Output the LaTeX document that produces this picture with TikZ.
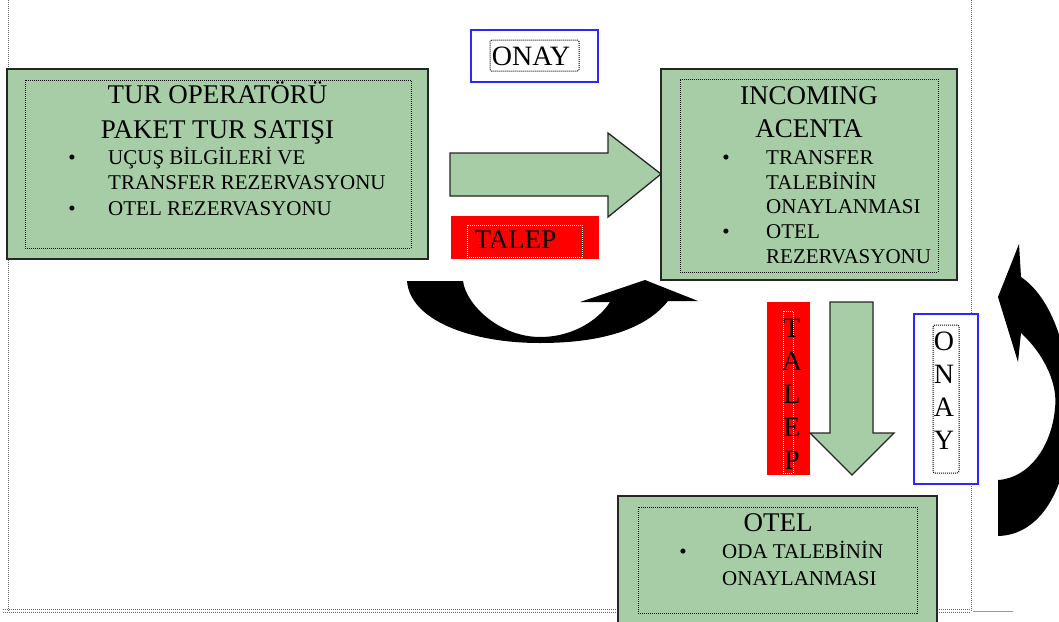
\documentclass[tikz,border=0pt]{standalone}
\usepackage{fontspec}
\setmainfont{Liberation Serif}
\definecolor{boxgreen}{RGB}{166,205,166}
\definecolor{onayblue}{RGB}{40,40,255}
\begin{document}
\begin{tikzpicture}[x=1pt,y=-1pt,
  pageline/.style={draw=black!60, line width=0.9pt, dash pattern=on 1pt off 1pt},
  gbox/.style={rectangle, draw=black!85, line width=1.4pt, fill=boxgreen, inner sep=0pt, outer sep=0pt, anchor=north west},
  dotbox/.style={rectangle, draw=black, line width=1pt, dash pattern=on 1pt off 1pt, inner sep=0pt, outer sep=0pt, anchor=north west},
  wdotbox/.style={rectangle, draw=black!80, line width=1pt, postaction={draw=white, line width=1pt, dash pattern=on 1pt off 1pt}, inner sep=0pt, outer sep=0pt, anchor=north west},
  bluebox/.style={rectangle, draw=onayblue, line width=1.5pt, fill=white, inner sep=0pt, outer sep=0pt, anchor=north west},
  redbox/.style={rectangle, fill=red, inner sep=0pt, outer sep=0pt, anchor=north west},
  title/.style={font=\fontsize{27}{27}\selectfont, anchor=base, inner sep=0pt},
  item/.style={font=\fontsize{21}{21}\selectfont, anchor=base west, inner sep=0pt},
  bul/.style={font=\fontsize{21}{21}\selectfont, anchor=base, inner sep=0pt},
  letter/.style={font=\fontsize{28}{28}\selectfont, anchor=base, inner sep=0pt},
  garrow/.style={draw=black!85, line width=1.3pt, fill=boxgreen, line join=miter},
  barrow/.style={fill=black}]
\useasboundingbox (0,0) rectangle (1059,621);
\fill[white] (0,0) rectangle (1059,621);

% page guide lines
\coordinate (pl1) at (8,0);   \coordinate (pl2) at (8,612);
\coordinate (pr1) at (971,0); \coordinate (pr2) at (971,612);
\coordinate (pb1) at (3,609); \coordinate (pb2) at (971,609);
\coordinate (pc1) at (3,612); \coordinate (pc2) at (971,612);
\coordinate (pg1) at (973,611); \coordinate (pg2) at (1013,611);
\draw[pageline] (pl1) -- (pl2);
\draw[pageline] (pr1) -- (pr2);
\draw[pageline] (pb1) -- (pb2);
\draw[pageline] (pc1) -- (pc2);
\draw[black!40, line width=1pt] (pg1) -- (pg2);

% box 1
\node[gbox, minimum width=421pt, minimum height=190pt] (b1) at (7,69) {};
\node[dotbox, minimum width=386pt, minimum height=168pt] (b1i) at (25,80) {};
\node[title] (t1a) at (217.5,103) {TUR OPERATÖRÜ};
\node[title] (t1b) at (217.5,138) {PAKET TUR SATIŞI};
\node[bul] (u1a) at (72,164) {•};
\node[item] (t1c) at (108,164) {UÇUŞ BİLGİLERİ VE};
\node[item] (t1d) at (108,189) {TRANSFER REZERVASYONU};
\node[bul] (u1b) at (72,215) {•};
\node[item] (t1e) at (108,215) {OTEL REZERVASYONU};

% box 2
\node[gbox, minimum width=296pt, minimum height=211pt] (b2) at (661,69) {};
\node[dotbox, minimum width=258pt, minimum height=193pt] (b2i) at (680,79) {};
\node[title] (t2a) at (809,104) {INCOMING};
\node[title] (t2b) at (809,137) {ACENTA};
\node[bul] (u2a) at (726,164) {•};
\node[item] (t2c) at (766,164) {TRANSFER};
\node[item] (t2d) at (766,189) {TALEBİNİN};
\node[item] (t2e) at (766,213) {ONAYLANMASI};
\node[bul] (u2b) at (726,238) {•};
\node[item] (t2f) at (766,238) {OTEL};
\node[item] (t2g) at (766,263) {REZERVASYONU};

% box 3
\node[gbox, minimum width=319pt, minimum height=140pt] (b3) at (618,496) {};
\node[dotbox, minimum width=279pt, minimum height=106pt] (b3i) at (638,507) {};
\node[title] (t3a) at (778,531) {OTEL};
\node[bul] (u3a) at (683,558) {•};
\node[item] (t3b) at (722,558) {ODA TALEBİNİN};
\node[item] (t3c) at (722,585) {ONAYLANMASI};

% top ONAY label
\node[bluebox, minimum width=127pt, minimum height=52pt] (on1) at (471,30) {};
\node[dotbox, minimum width=89pt, minimum height=31pt, rounded corners=1.5pt] (on1i) at (490,40) {};
\node[font=\fontsize{28}{28}\selectfont, anchor=base, inner sep=0pt] (on1t) at (531,65) {ONAY};

% right green arrow
\coordinate (ra1) at (450,153);
\coordinate (ra2) at (608,153);
\coordinate (ra3) at (608,133);
\coordinate (ra4) at (661,174);
\coordinate (ra5) at (608,217);
\coordinate (ra6) at (608,196);
\coordinate (ra7) at (450,196);
\draw[garrow] (ra1) -- (ra2) -- (ra3) -- (ra4) -- (ra5) -- (ra6) -- (ra7) -- cycle;

% horizontal TALEP label
\node[redbox, minimum width=148pt, minimum height=43pt] (ta1) at (451,216) {};
\node[wdotbox, minimum width=115pt, minimum height=32pt] (ta1i) at (467,225) {};
\node[font=\fontsize{27}{27}\selectfont, anchor=base, inner sep=0pt] (ta1t) at (515.5,248) {TALEP};

% bottom black curved arrow
\coordinate (ca1) at (407,281);
\coordinate (ca2) at (463,281);
\coordinate (ca3) at (540,337);
\coordinate (ca4) at (610,302);
\coordinate (ca5) at (580,302);
\coordinate (ca6) at (645,280);
\coordinate (ca7) at (698,301);
\coordinate (ca8) at (668,301);
\coordinate (ca9) at (540,343);
\fill[barrow] (ca1) -- (ca2) .. controls (466,305) and (500,337) .. (ca3)
  .. controls (575,337) and (600,318) .. (ca4) -- (ca5) -- (ca6) -- (ca7) -- (ca8)
  .. controls (645,330) and (600,343) .. (ca9)
  .. controls (470,343) and (410,320) .. (ca1) -- cycle;

% vertical TALEP label
\node[redbox, minimum width=43pt, minimum height=173pt] (ta2) at (767,302) {};
\node[wdotbox, minimum width=10pt, minimum height=162pt] (ta2i) at (783,311) {};
\node[letter] (ta2t) at (792,337) {T};
\node[letter] (ta2a) at (792,370) {A};
\node[letter] (ta2l) at (792,403) {L};
\node[letter] (ta2e) at (792,436) {E};
\node[letter] (ta2p) at (792,469) {P};

% down green arrow
\coordinate (da1) at (830,302);
\coordinate (da2) at (873,302);
\coordinate (da3) at (873,433);
\coordinate (da4) at (894,433);
\coordinate (da5) at (852,475);
\coordinate (da6) at (810,433);
\coordinate (da7) at (830,433);
\draw[garrow] (da1) -- (da2) -- (da3) -- (da4) -- (da5) -- (da6) -- (da7) -- cycle;

% vertical ONAY label
\node[bluebox, minimum width=64pt, minimum height=170pt] (on2) at (914,314) {};
\node[dotbox, minimum width=26pt, minimum height=148pt, rounded corners=2pt] (on2i) at (933,325) {};
\node[letter] (on2o) at (944,350) {O};
\node[letter] (on2n) at (944,383) {N};
\node[letter] (on2a) at (944,416) {A};
\node[letter] (on2y) at (944,449) {Y};

% right black curved arrow
\coordinate (cb1) at (1019,244);
\coordinate (cb2) at (998,297);
\coordinate (cb3) at (1018,362);
\coordinate (cb4) at (1021,333);
\coordinate (cb5) at (1055,408);
\coordinate (cb6) at (998,480);
\coordinate (cb7) at (998,536);
\coordinate (cb8) at (1070,420);
\coordinate (cb9) at (1021,277);
\fill[barrow] (cb1) -- (cb2) -- (cb3) -- (cb4)
  .. controls (1045,355) and (1058,385) .. (cb5)
  .. controls (1052,445) and (1030,478) .. (cb6) -- (cb7)
  .. controls (1040,535) and (1068,490) .. (cb8)
  .. controls (1072,360) and (1055,300) .. (cb9) -- cycle;
\end{tikzpicture}
\end{document}
